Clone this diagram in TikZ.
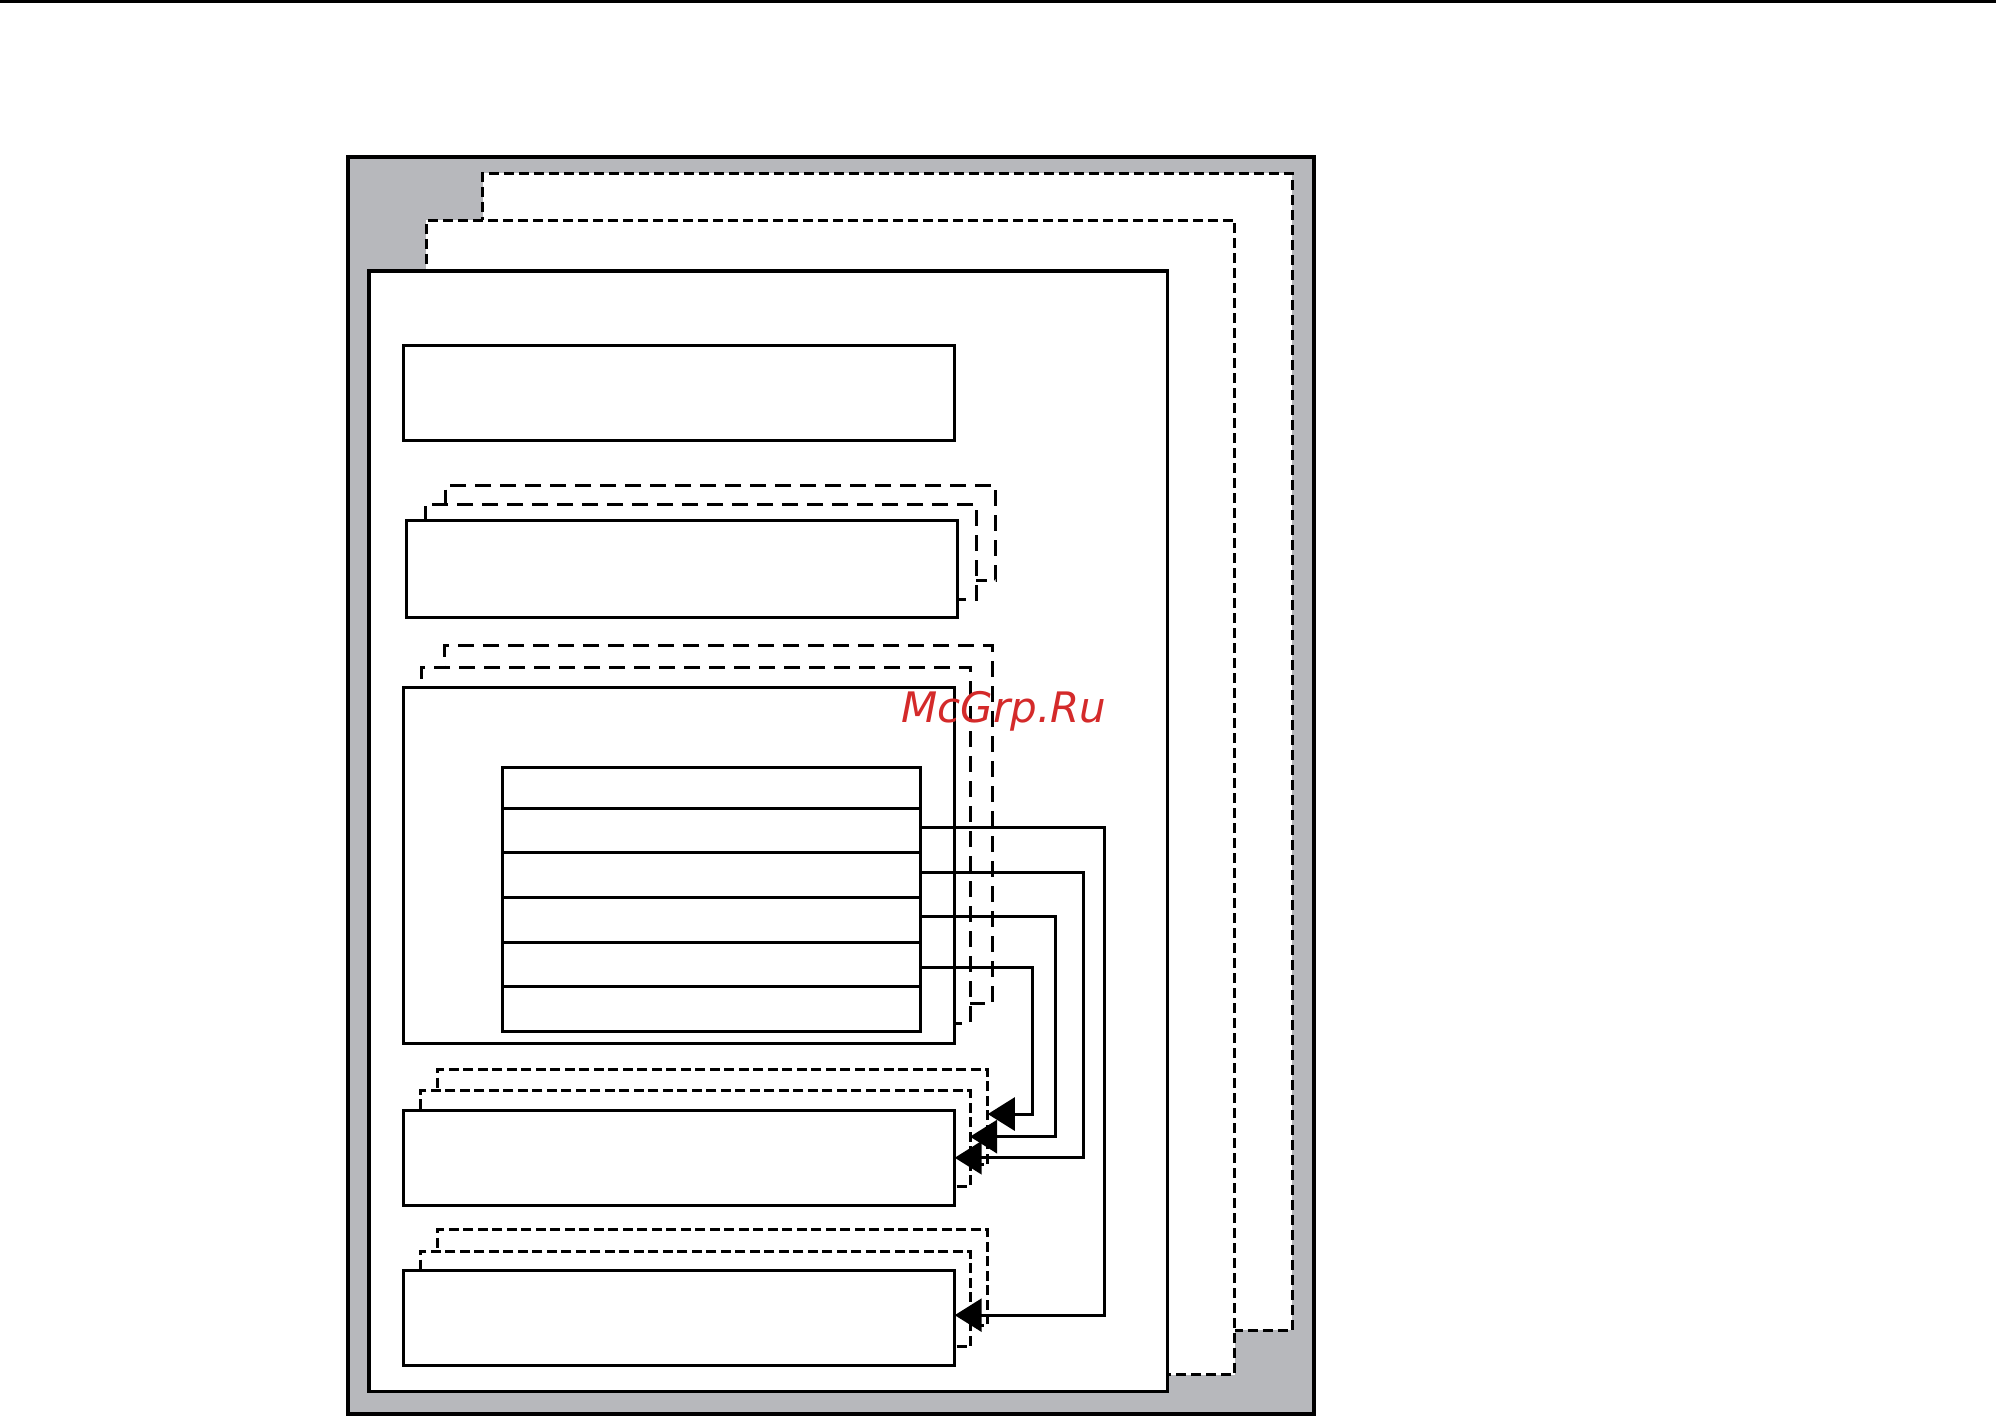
\documentclass[tikz,border=0pt]{standalone}
\usepackage{fontspec}
\usetikzlibrary{arrows.meta}
\definecolor{pagegray}{RGB}{183,184,188}
\definecolor{wmred}{RGB}{212,42,42}
\newfontfamily\wmfont{DejaVu Sans}
\begin{document}
\begin{tikzpicture}[x=1pt,y=-1pt,
  base/.style={fill=white, anchor=north west, inner sep=0pt, outer sep=0pt},
  solidbox/.style={base, draw, line width=3pt},
  pagedash/.style={base, draw, line width=3pt, dash pattern=on 10pt off 5pt},
  longdash/.style={base, draw, line width=3pt, dash pattern=on 16pt off 9pt},
  shortdash/.style={base, draw, line width=3pt, dash pattern=on 10pt off 4.5pt},
  rowbox/.style={solidbox, minimum width=417.6},
  conn/.style={line width=3pt, -{Triangle[length=27pt,width=33pt]}}]
\useasboundingbox (0,0) rectangle (1996,1416);
\coordinate (tl) at (0,1.5);
\coordinate (tr) at (1996,1.5);
\draw[line width=3pt] (tl) -- (tr);
% outer frame
\node[base, fill=pagegray, draw, line width=4pt, minimum width=966.2, minimum height=1257] (outer) at (347.5,156.6) {};
% pages
\node[pagedash, minimum width=809.6, minimum height=1157.1] (pback) at (482.5,173.1) {};
\node[pagedash, minimum width=808.4, minimum height=1154.6] (pmid) at (426.4,220.2) {};
\node[solidbox, line width=3.5pt, minimum width=798.1, minimum height=1120.2] (pfront) at (369.2,271.1) {};
% box A
\node[solidbox, minimum width=551.2, minimum height=95.4] (A) at (403.5,345.0) {};
% box B group
\node[longdash, minimum width=550.0, minimum height=95.5] (Bback) at (445.5,485.0) {};
\node[longdash, minimum width=551.2, minimum height=95.5] (Bmid) at (425.2,504.1) {};
\node[solidbox, minimum width=551.2, minimum height=96.8] (Bfront) at (406.1,520.6) {};
% box C group
\node[longdash, minimum width=548.6, minimum height=357.7] (Cback) at (444.3,645.4) {};
\node[longdash, minimum width=548.7, minimum height=356.5] (Cmid) at (421.3,667.0) {};
\node[solidbox, minimum width=551.2, minimum height=356.4] (Cfront) at (403.5,687.4) {};
% table
\node[rowbox, minimum height=40.7] (r1) at (502.8,767.6) {};
\node[rowbox, minimum height=44.6] (r2) at (502.8,808.3) {};
\node[rowbox, minimum height=44.5] (r3) at (502.8,852.9) {};
\node[rowbox, minimum height=44.6] (r4) at (502.8,897.4) {};
\node[rowbox, minimum height=44.5] (r5) at (502.8,942.0) {};
\node[rowbox, minimum height=44.6] (r6) at (502.8,986.5) {};
% box D group
\node[shortdash, minimum width=549.9, minimum height=95.5] (Dback) at (437.9,1069.3) {};
\node[shortdash, minimum width=549.9, minimum height=95.5] (Dmid) at (420.1,1090.9) {};
\node[solidbox, minimum width=551.2, minimum height=95.5] (Dfront) at (403.5,1110.0) {};
% box E group
\node[shortdash, minimum width=549.9, minimum height=95.5] (Eback) at (437.9,1229.7) {};
\node[shortdash, minimum width=549.9, minimum height=95.5] (Emid) at (420.1,1251.3) {};
\node[solidbox, minimum width=551.2, minimum height=95.5] (Efront) at (403.5,1270.4) {};
% connectors
\draw[conn] ([yshift=3pt]r2.east) -- ([xshift=184.5pt,yshift=3pt]r2.east) |- ([yshift=3pt]Efront.east);
\draw[conn] ([yshift=3pt]r3.east) -- ([xshift=162.9pt,yshift=3pt]r3.east) |- (Dfront.east);
\draw[conn] ([yshift=3pt]r4.east) -- ([xshift=134.9pt,yshift=3pt]r4.east) |- ([yshift=2pt]Dmid.east);
\draw[conn] ([yshift=-3pt]r5.east) -- ([xshift=112.0pt,yshift=-3pt]r5.east) |- ([yshift=3pt]Dback.east);
% watermark
\node[text=wmred, font=\wmfont\itshape\fontsize{42}{42}\selectfont, inner sep=0pt] (wm) at (1004,711) {McGrp.Ru};
\end{tikzpicture}
\end{document}
